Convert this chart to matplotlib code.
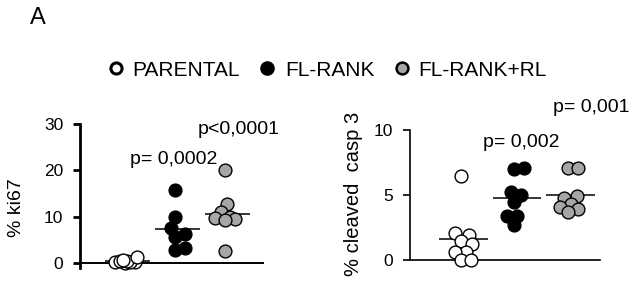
#!/usr/bin/env python3
"""Panel A: ki67 and cleaved caspase 3 dot plots (PARENTAL / FL-RANK / FL-RANK+RL)."""
import numpy as np
import matplotlib
matplotlib.use("Agg")
import matplotlib.pyplot as plt
from matplotlib.lines import Line2D

plt.rcParams["font.family"] = ["Liberation Sans", "DejaVu Sans"]
plt.rcParams["font.size"] = 13

GROUPS = ["PARENTAL", "FL-RANK", "FL-RANK+RL"]
FACES = ["white", "black", "#a6a6a6"]

# % ki67
KI67_PARENTAL = [0.0, 0.1, 0.2, 0.3, 0.4, 0.5, 0.6, 1.2]
KI67_FLRANK = [15.7, 9.9, 7.6, 6.3, 5.7, 3.2, 2.7]
KI67_FLRANK_RL = [20.1, 12.7, 11.0, 9.9, 9.6, 9.5, 9.3, 2.5]
KI67_P = ["p= 0,0002", "p<0,0001"]

# % cleaved casp 3
CASP_PARENTAL = [6.5, 2.1, 1.9, 1.5, 1.2, 0.6, 0.6, 0.0, 0.0]
CASP_FLRANK = [7.1, 7.0, 5.2, 5.0, 4.5, 3.4, 3.4, 2.7]
CASP_FLRANK_RL = [7.1, 7.1, 4.9, 4.8, 4.3, 4.1, 3.9, 3.7]
CASP_P = ["p= 0,002", "p= 0,001"]


def swarm(ax, cx, vals, min_dist=9.5, max_off=12.0, step=1.0):
    """Simple beeswarm in display space; returns x in data units."""
    pts = ax.transData.transform(np.column_stack([np.full(len(vals), cx), vals]))
    order = np.argsort(vals)
    cands = [0.0]
    k = 1
    while k * step <= max_off:
        cands += [k * step, -k * step]
        k += 1
    placed = []
    xs = np.zeros(len(vals))
    for i in order:
        x0, y0 = pts[i]
        best, best_d, best_c = None, -1, 0.0
        for c in cands:
            if not placed:
                best = c
                break
            d = min(np.hypot(x0 + c - px, y0 - py) for px, py in placed)
            if d >= min_dist:
                best = c
                break
            if d > best_d:
                best_d, best_c = d, c
        if best is None:
            best = best_c
        placed.append((x0 + best, y0))
        xs[i] = x0 + best
    back = ax.transData.inverted().transform(np.column_stack([xs, pts[:, 1]]))
    return back[:, 0]


def dot_panel(ax, data, spine_lw):
    for i, (vals, fc) in enumerate(zip(data, FACES)):
        vals = np.asarray(vals, float)
        ax.hlines(vals.mean(), i - 0.4, i + 0.5, color="black", lw=1.1, zorder=2)
        xs = swarm(ax, i, vals)
        ax.scatter(xs, vals, s=85, facecolor=fc, edgecolor="black",
                   linewidth=1.0, zorder=3, clip_on=False)
    for s in ("top", "right"):
        ax.spines[s].set_visible(False)
    ax.set_xticks([])
    ax.tick_params(axis="y", direction="out", length=5, width=spine_lw,
                   pad=7, labelsize=12.5)


def main():
    fig = plt.figure(figsize=(6.35, 2.9), dpi=100)

    # left: ki67
    ax1 = fig.add_axes([80 / 635, 1 - 268 / 290, 183 / 635, 144 / 290])
    ax1.set_xlim(-0.9, 2.76)
    ax1.set_ylim(-1.1, 30)
    ax1.spines["bottom"].set_position(("data", 0))
    ax1.spines["left"].set_linewidth(2.0)
    ax1.spines["bottom"].set_linewidth(1.4)
    dot_panel(ax1, [KI67_PARENTAL, KI67_FLRANK, KI67_FLRANK_RL], 2.0)
    ax1.set_yticks([0, 10, 20, 30])
    ax1.set_ylabel("% ki67", fontsize=14)
    ax1.yaxis.set_label_coords(-0.30, 0.42)
    ax1.text(0.97, 22.3, KI67_P[0], ha="center", va="center", fontsize=14)
    ax1.text(2.28, 28.8, KI67_P[1], ha="center", va="center", fontsize=14)

    # right: cleaved casp 3
    ax2 = fig.add_axes([410 / 635, 1 - 260 / 290, 190 / 635, 130 / 290])
    ax2.set_xlim(-0.95, 2.6)
    ax2.set_ylim(0, 10)
    for s in ("left", "bottom"):
        ax2.spines[s].set_linewidth(1.2)
    dot_panel(ax2, [CASP_PARENTAL, CASP_FLRANK, CASP_FLRANK_RL], 1.2)
    ax2.set_yticks([0, 5, 10])
    ax2.set_ylabel("% cleaved  casp 3", fontsize=14.5)
    ax2.yaxis.set_label_coords(-0.247, 0.51)
    ax2.text(1.12, 9.05, CASP_P[0], ha="center", va="center", fontsize=14)
    ax2.text(2.43, 11.75, CASP_P[1], ha="center", va="center", fontsize=14)

    # legend row: marker + label, laid out along the top
    y_leg = 1 - 68 / 290
    leg_style = [
        dict(ms=8, mfc="white", mec="black", mew=2.2),
        dict(ms=9.5, mfc="black", mec="black", mew=1.0),
        dict(ms=8.5, mfc="#a6a6a6", mec="black", mew=1.8),
    ]
    leg_x = [(116, 132), (267, 285), (402, 418)]
    for name, st, (mx, tx) in zip(GROUPS, leg_style, leg_x):
        fig.add_artist(Line2D([mx / 635], [y_leg], transform=fig.transFigure,
                              ls="none", marker="o", **st))
        fig.text(tx / 635, y_leg, name, ha="left", va="center_baseline",
                 fontsize=15)

    fig.text(38 / 635, 1 - 18 / 290, "A", ha="center", va="center", fontsize=17)

    fig.savefig("out.png", dpi=100)
    plt.close(fig)


if __name__ == "__main__":
    main()
